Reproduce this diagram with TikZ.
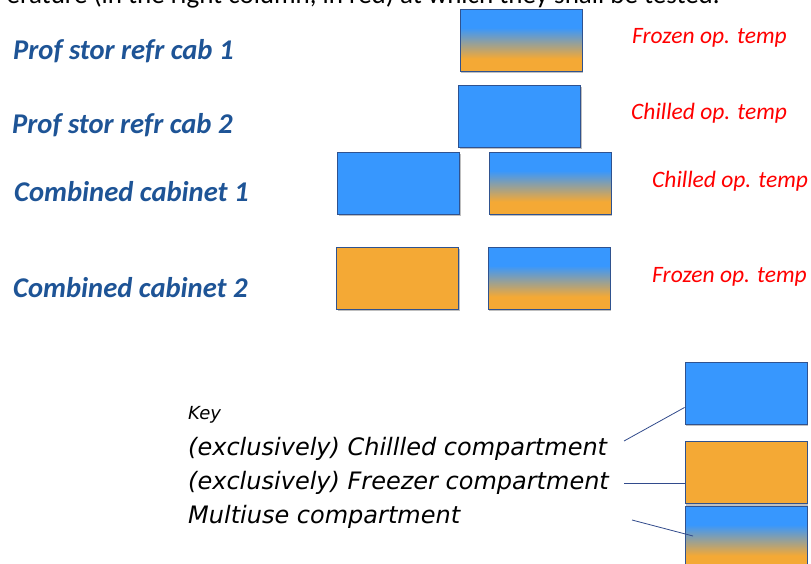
\documentclass[tikz,border=0pt]{standalone}
\usepackage{fontspec}
\setmainfont{Carlito}
\newfontfamily\keyfont{DejaVu Sans}
\usetikzlibrary{shadows,calc}
\definecolor{blu}{RGB}{55,151,254}
\definecolor{orng}{RGB}{244,169,53}
\definecolor{boxline}{RGB}{47,82,143}
\definecolor{lblblue}{RGB}{30,84,150}
\definecolor{keyline}{RGB}{50,75,140}
\pgfdeclareverticalshading{multiuse}{100bp}{color(0bp)=(orng); color(35bp)=(orng); color(60bp)=(blu); color(100bp)=(blu)}
\tikzset{
  box/.style={draw=boxline, line width=0.9pt, minimum width=122pt, minimum height=62pt, inner sep=0pt,
    drop shadow={shadow xshift=1pt, shadow yshift=-2pt, opacity=0.25, fill=black}},
  chill/.style={box, fill=blu},
  frz/.style={box, fill=orng},
  multi/.style={box, shading=multiuse},
  cablbl/.style={anchor=base west, inner sep=0pt, text=lblblue, font=\fontsize{28.6}{34}\selectfont\bfseries\itshape},
  oplbl/.style={anchor=base west, inner sep=0pt, text=red, font=\fontsize{23.5}{28}\selectfont\itshape},
  keytxt/.style={anchor=base west, inner sep=0pt, font=\keyfont\itshape\fontsize{24}{29}\selectfont},
  keyln/.style={draw=keyline, line width=0.8pt},
}
\begin{document}
\begin{tikzpicture}[x=1pt,y=-1pt]
\path[use as bounding box, clip] (0,0) rectangle (811,563);
\fill[white] (0,0) rectangle (811,563);
% cut-off heading
\node[anchor=base east, inner sep=0pt, font=\fontsize{27}{32}\selectfont] (head) at (720,3.5) {erature (in the right column, in red) at which they shall be tested.};
% left labels
\node[cablbl] (l1) at (13,59) {Prof stor refr cab 1};
\node[cablbl] (l2) at (12,133) {Prof stor refr cab 2};
\node[cablbl] (l3) at (14,201) {Combined cabinet 1};
\node[cablbl] (l4) at (13,297) {Combined cabinet 2};
% boxes
\node[multi] (c1) at (521,40) {};
\node[chill] (c2) at (519.5,116) {};
\node[chill] (k1l) at (398.5,183) {};
\node[multi] (k1r) at (550,183) {};
\node[frz] (k2l) at (397.5,278) {};
\node[multi] (k2r) at (549,278) {};
% red labels
\node[oplbl] (r1) at (632,43) {Frozen op. temp};
\node[oplbl] (r2) at (631,119) {Chilled op. temp};
\node[oplbl] (r3) at (652,187) {Chilled op. temp};
\node[oplbl] (r4) at (652,282) {Frozen op. temp};
% key
\node[keytxt, font=\keyfont\itshape\fontsize{18}{22}\selectfont] (key) at (188,419) {Key};
\node[keytxt] (kt1) at (188,455) {(exclusively) Chillled compartment};
\node[keytxt] (kt2) at (188,489) {(exclusively) Freezer compartment};
\node[keytxt] (kt3) at (188,523) {Multiuse compartment};
\node[chill] (kb) at (746,393) {};
\node[frz] (ko) at (746,472.5) {};
\node[multi] (km) at (746,537) {};
\coordinate (a1) at (624,441);
\coordinate (a2) at (624,483);
\coordinate (a3) at (632,520);
\coordinate (b3) at (693,536);
\draw[keyln] (a1) -- ($(kb.south west)!0.27!(kb.north west)$);
\draw[keyln] (a2) -- (a2 -| ko.west);
\draw[keyln] (a3) -- (b3);
\end{tikzpicture}
\end{document}
